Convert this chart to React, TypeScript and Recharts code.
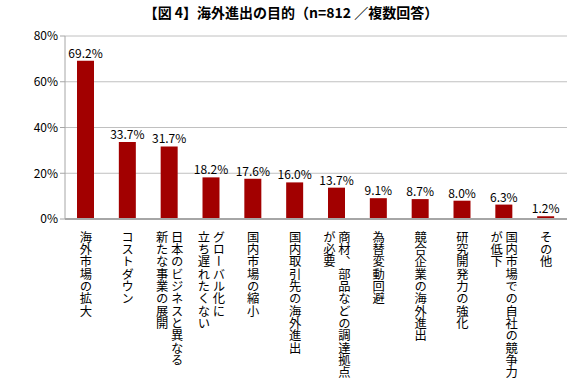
import { BarChart, Bar, XAxis, YAxis, CartesianGrid, LabelList } from "recharts";

const categories = [
  "海外市場の拡大",
  "コストダウン",
  "日本のビジネスと異なる\n新たな事業の展開",
  "グローバル化に\n立ち遅れたくない",
  "国内市場の縮小",
  "国内取引先の海外進出",
  "商材、部品などの調達拠点\nが必要",
  "為替変動回避",
  "競合企業の海外進出",
  "研究開発力の強化",
  "国内市場での自社の競争力\nが低下",
  "その他",
];

const values = [69.2, 33.7, 31.7, 18.2, 17.6, 16.0, 13.7, 9.1, 8.7, 8.0, 6.3, 1.2];

const yTicks = [0, 20, 40, 60, 80];

const data = categories.map((name, i) => ({ name, value: values[i] }));

const FONT = '"Noto Sans CJK JP", "Noto Sans", sans-serif';

function VerticalTick(props: any) {
  const { x, y, payload } = props;
  const lines: string[] = String(payload.value).split("\n");
  const gap = 15;
  return (
    <g>
      {lines.map((line, i) => {
        // first line sits on the right, like vertical Japanese writing
        const cx = x + ((lines.length - 1) / 2 - i) * gap;
        return (
          <text
            key={i}
            x={cx}
            y={y}
            fill="#000"
            fontSize={12.3}
            fontFamily={FONT}
            textAnchor="start"
            style={{ writingMode: "vertical-rl" } as any}
          >
            {line}
          </text>
        );
      })}
    </g>
  );
}

export default function App() {
  return (
    <div style={{ position: "absolute", left: 0, top: 0, width: 582, height: 380, background: "#fff" }}>
      <div
        style={{
          position: "absolute",
          top: 2,
          left: 0,
          width: 582,
          textAlign: "center",
          fontFamily: FONT,
          fontWeight: "bold",
          fontSize: 14,
          color: "#000",
          whiteSpace: "pre",
        }}
      >
        【図 4】海外進出の目的（n=812 ／複数回答）
      </div>
      <BarChart
        width={582}
        height={380}
        data={data}
        margin={{ top: 36, right: 15, bottom: 0, left: 0 }}
        barSize={17}
      >
        <CartesianGrid vertical={false} stroke="#c0c0c0" />
        <XAxis
          dataKey="name"
          interval={0}
          height={161}
          tickLine={false}
          axisLine={{ stroke: "#a6a6a6", strokeWidth: 2 }}
          tick={<VerticalTick />}
          tickMargin={6}
        />
        <YAxis
          width={65}
          domain={[0, 80]}
          ticks={yTicks}
          tickFormatter={(v: number) => `${v}%`}
          axisLine={{ stroke: "#a6a6a6" }}
          tickLine={{ stroke: "#a6a6a6" }}
          tickSize={5}
          tick={{ fill: "#000", fontSize: 12, fontFamily: FONT }}
        />
        <Bar dataKey="value" fill="#a20000" isAnimationActive={false}>
          <LabelList
            dataKey="value"
            position="top"
            offset={3}
            formatter={(v: any) => `${Number(v).toFixed(1)}%`}
            style={{ fill: "#000", fontSize: 12, fontFamily: FONT }}
          />
        </Bar>
      </BarChart>
    </div>
  );
}
